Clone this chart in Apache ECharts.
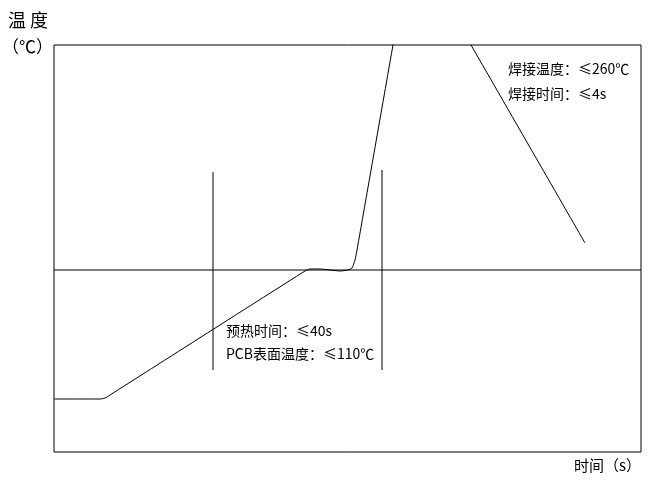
<!DOCTYPE html>
<html>
<head>
<meta charset="utf-8">
<script src="https://cdn.jsdelivr.net/npm/echarts@6/dist/echarts.min.js"></script>
<style>
  html, body { margin: 0; padding: 0; background: #fff; }
  #chart { width: 648px; height: 481px; }
</style>
</head>
<body>
<div id="chart"></div>
<script>
// reflow profile (time / temperature in plot units)
var profile_x = [0, 46, 51, 56, 251, 256, 266, 276, 286, 294, 298, 301, 303, 339, 349, 385, 417, 531];
var profile_y = [53, 53, 54, 57, 181, 183, 183, 182, 181, 182, 184, 192, 202, 407, 462, 462, 407, 209];
var ref_level = 182;               // horizontal reference line
var preheat_start = [159, 82, 280]; // x, y from, y to
var preheat_end = [328, 82, 282];
var x_max = 587, y_max = 407;

var texts = {
  yname1: '温 度',
  yname2: '（℃）',
  xname: '时间（s）',
  weld1: '焊接温度：≤260℃',
  weld2: '焊接时间：≤4s',
  pre1: '预热时间：≤40s',
  pre2: 'PCB表面温度：≤110℃'
};

var profile = profile_x.map(function (x, i) { return [x, profile_y[i]]; });
var font = '"Noto Sans CJK SC", sans-serif';

function seg(v) {
  return {
    type: 'line', data: [[v[0], v[1]], [v[0], v[2]]], symbol: 'none', silent: true,
    lineStyle: { color: '#000', width: 1 }
  };
}

var chart = echarts.init(document.getElementById('chart'));
chart.setOption({
  animation: false,
  grid: { left: 54, right: 7, top: 45, bottom: 29, show: true, borderColor: '#000', borderWidth: 1 },
  xAxis: {
    type: 'value', min: 0, max: x_max,
    axisLine: { show: false }, axisTick: { show: false }, axisLabel: { show: false }, splitLine: { show: false }
  },
  yAxis: {
    type: 'value', min: 0, max: y_max,
    axisLine: { show: false }, axisTick: { show: false }, axisLabel: { show: false }, splitLine: { show: false }
  },
  series: [
    {
      type: 'line', data: profile, symbol: 'none', smooth: 0.2, clip: true, silent: true,
      lineStyle: { color: '#000', width: 1 }
    },
    {
      type: 'line', data: [[0, ref_level], [x_max, ref_level]], symbol: 'none', silent: true,
      lineStyle: { color: '#000', width: 1 }
    },
    seg(preheat_start),
    seg(preheat_end)
  ],
  graphic: [
    { type: 'text', left: 8, top: 11, style: { text: texts.yname1, font: '18px ' + font, fill: '#000' } },
    { type: 'text', left: 2, top: 38, style: { text: texts.yname2, font: '17px ' + font, fill: '#000' } },
    { type: 'text', left: 574, top: 458, style: { text: texts.xname, font: '15px ' + font, fill: '#000' } },
    { type: 'text', left: 508, top: 62, style: { text: texts.weld1, font: '14px ' + font, fill: '#000' } },
    { type: 'text', left: 508, top: 87, style: { text: texts.weld2, font: '14px ' + font, fill: '#000' } },
    { type: 'text', left: 226, top: 324, style: { text: texts.pre1, font: '14px ' + font, fill: '#000' } },
    { type: 'text', left: 226, top: 347, style: { text: texts.pre2, font: '14px ' + font, fill: '#000' } }
  ]
});
</script>
</body>
</html>
